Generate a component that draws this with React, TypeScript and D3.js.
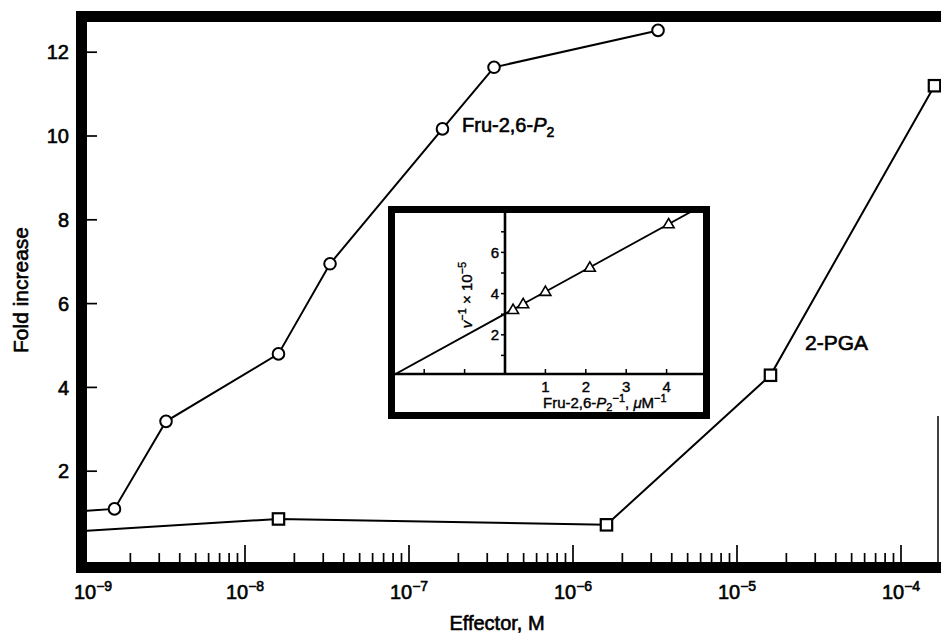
import * as d3 from 'd3';

const W = 941;
const H = 634;

// main panel: Fru-2,6-P2 (circles) and 2-PGA (squares)
const fruDose = [1.6e-9, 3.3e-9, 1.6e-8, 3.3e-8, 1.6e-7, 3.3e-7, 3.3e-6];
const fruFold = [1.1, 3.19, 4.8, 6.95, 10.17, 11.64, 12.52];
const fruAtAxis = 1.05;

const pgaDose = [1.6e-8, 1.6e-6, 1.6e-5, 1.6e-4];
const pgaFold = [0.86, 0.72, 4.29, 11.2];
const pgaAtAxis = 0.57;

const yTickVals = [2, 4, 6, 8, 10, 12];
const xDecades = [-9, -8, -7, -6, -5, -4];

// inset: double reciprocal plot
const recipConc = [0.2, 0.45, 1.0, 2.1, 4.05];
const recipRate = [3.22, 3.5, 4.1, 5.27, 7.38];
const fitConc = [-2.8, 5.0];
const fitRate = [0, 8.4];
const insetXLabels = [1, 2, 3, 4];
const insetXTicks = [-2, -1, 1, 2, 3, 4];
const insetYTicks = [1, 2, 3, 4, 5, 6, 7];
const insetYLabels = [2, 4, 6];

const font = 'Liberation Sans, Arial, sans-serif';

const x = d3.scaleLog().domain([1e-9, 1e-4]).range([81, 901]);
const y = d3.scaleLinear().domain([0, 12]).range([555, 52.2]);

const ix = d3.scaleLinear().domain([0, 4]).range([505, 666.6]);
const iy = d3.scaleLinear().domain([0, 6]).range([376, 252.4]);

const line = d3.line<[number, number]>()
  .x((d) => x(d[0]))
  .y((d) => y(d[1]));

const iline = d3.line<[number, number]>()
  .x((d) => ix(d[0]))
  .y((d) => iy(d[1]));

const txt = { fontFamily: font, fill: '#000', stroke: '#000', strokeWidth: 0.6 };
const itxt = { fontFamily: font, fill: '#000', stroke: '#000', strokeWidth: 0.4 };

export default function App() {
  const fruPts: [number, number][] = [[1e-9, fruAtAxis], ...fruDose.map((d, i) => [d, fruFold[i]] as [number, number])];
  const pgaPts: [number, number][] = [[1e-9, pgaAtAxis], ...pgaDose.map((d, i) => [d, pgaFold[i]] as [number, number])];
  const fitPts: [number, number][] = fitConc.map((c, i) => [c, fitRate[i]]);

  const ticks = x.ticks();
  const isMajor = (t: number) => Math.abs(Math.log10(t) - Math.round(Math.log10(t))) < 1e-6;

  return (
    <svg width={W} height={H} style={{ position: 'absolute', left: 0, top: 0, background: '#fff' }}>
      <defs>
        <clipPath id="plot">
          <rect x={87} y={22} width={W} height={540} />
        </clipPath>
        <clipPath id="inset">
          <rect x={395} y={213} width={308} height={161} />
        </clipPath>
      </defs>
      <rect width={W} height={H} fill="#fff" />

      {/* series lines */}
      <g clipPath="url(#plot)" fill="none" stroke="#000" strokeWidth={2}>
        <path d={line(fruPts) ?? ''} />
        <path d={line(pgaPts) ?? ''} />
      </g>
      {fruDose.map((d, i) => (
        <circle key={'c' + i} cx={x(d)} cy={y(fruFold[i])} r={5.8} fill="#fff" stroke="#000" strokeWidth={2} />
      ))}
      {pgaDose.map((d, i) => (
        <rect key={'s' + i} x={x(d) - 5.7} y={y(pgaFold[i]) - 5.7} width={11.4} height={11.4} fill="#fff" stroke="#000" strokeWidth={2.2} />
      ))}

      {/* bottom ticks */}
      {ticks.map((t, i) => (
        <line key={'xt' + i} x1={x(t)} x2={x(t)} y1={562} y2={562 - (isMajor(t) ? 17 : 9)} stroke="#000" strokeWidth={1.7} />
      ))}
      {/* left ticks */}
      {yTickVals.map((v) => (
        <line key={'yt' + v} x1={87} x2={97} y1={y(v)} y2={y(v)} stroke="#000" strokeWidth={1.7} />
      ))}

      {/* frame */}
      <rect x={81.5} y={16.5} width={W} height={551} fill="none" stroke="#000" strokeWidth={11} />
      <line x1={938} x2={938} y1={416} y2={562} stroke="#000" strokeWidth={1.5} />

      {/* tick labels */}
      {yTickVals.map((v) => (
        <text key={'yl' + v} x={69} y={y(v)} dy="0.36em" textAnchor="end" fontSize={20} style={txt}>{v}</text>
      ))}
      {xDecades.map((e, i) => (
        <text key={'xl' + e} x={x(Math.pow(10, e)) + (i === 0 ? 12 : 0)} y={599} textAnchor="middle" fontSize={20} style={txt}>
          10<tspan fontSize={14} dy={-8}>{'\u2212' + Math.abs(e)}</tspan>
        </text>
      ))}

      {/* axis titles */}
      <text x={497} y={630} textAnchor="middle" fontSize={20} style={txt}>Effector, M</text>
      <text transform="translate(28,290) rotate(-90)" textAnchor="middle" fontSize={21} style={txt}>Fold increase</text>

      {/* series labels */}
      <text x={462} y={132} fontSize={20} style={txt}>
        Fru-2,6-<tspan fontStyle="italic">P</tspan><tspan fontSize={14} dy={5}>2</tspan>
      </text>
      <text x={805} y={350} fontSize={21} style={txt}>2-PGA</text>

      {/* inset */}
      <rect x={391.5} y={209.5} width={315} height={206} fill="#fff" stroke="#000" strokeWidth={7} />
      <line x1={395} x2={703} y1={374} y2={374} stroke="#000" strokeWidth={2.6} />
      <line x1={ix(0)} x2={ix(0)} y1={213} y2={374} stroke="#000" strokeWidth={2.6} />
      {insetXTicks.map((v) => (
        <line key={'ixt' + v} x1={ix(v)} x2={ix(v)} y1={374} y2={369} stroke="#000" strokeWidth={1.5} />
      ))}
      {insetYTicks.map((v) => (
        <line key={'iyt' + v} x1={ix(0) - 4} x2={ix(0)} y1={iy(v)} y2={iy(v)} stroke="#000" strokeWidth={1.5} />
      ))}
      <g clipPath="url(#inset)">
        <path d={iline(fitPts) ?? ''} fill="none" stroke="#000" strokeWidth={1.8} />
      </g>
      {recipConc.map((c, i) => {
        const cx = ix(c);
        const cy = iy(recipRate[i]);
        const s = 5.5;
        return (
          <path key={'tri' + i} d={`M${cx},${cy - s}L${cx + s},${cy + s * 0.7}L${cx - s},${cy + s * 0.7}Z`} fill="#fff" stroke="#000" strokeWidth={1.6} />
        );
      })}
      {insetXLabels.map((v) => (
        <text key={'ixl' + v} x={ix(v)} y={392} textAnchor="middle" fontSize={15} style={itxt}>{v}</text>
      ))}
      {insetYLabels.map((v) => (
        <text key={'iyl' + v} x={499} y={iy(v)} dy="0.36em" textAnchor="end" fontSize={15} style={itxt}>{v}</text>
      ))}
      <text x={543} y={408} fontSize={15} style={itxt}>
        Fru-2,6-<tspan fontStyle="italic">P</tspan><tspan fontSize={11} dy={3}>2</tspan><tspan fontSize={11} dy={-9}>{'\u22121'}</tspan><tspan dy={6}>, </tspan><tspan fontStyle="italic">μ</tspan>M<tspan fontSize={11} dy={-6}>{'\u22121'}</tspan>
      </text>
      <text transform="translate(472,295) rotate(-90)" textAnchor="middle" fontSize={15} style={itxt}>
        <tspan fontStyle="italic">v</tspan><tspan fontSize={11} dy={-6}>{'\u22121'}</tspan><tspan dy={6}> × 10</tspan><tspan fontSize={11} dy={-6}>{'\u22125'}</tspan>
      </text>
    </svg>
  );
}
